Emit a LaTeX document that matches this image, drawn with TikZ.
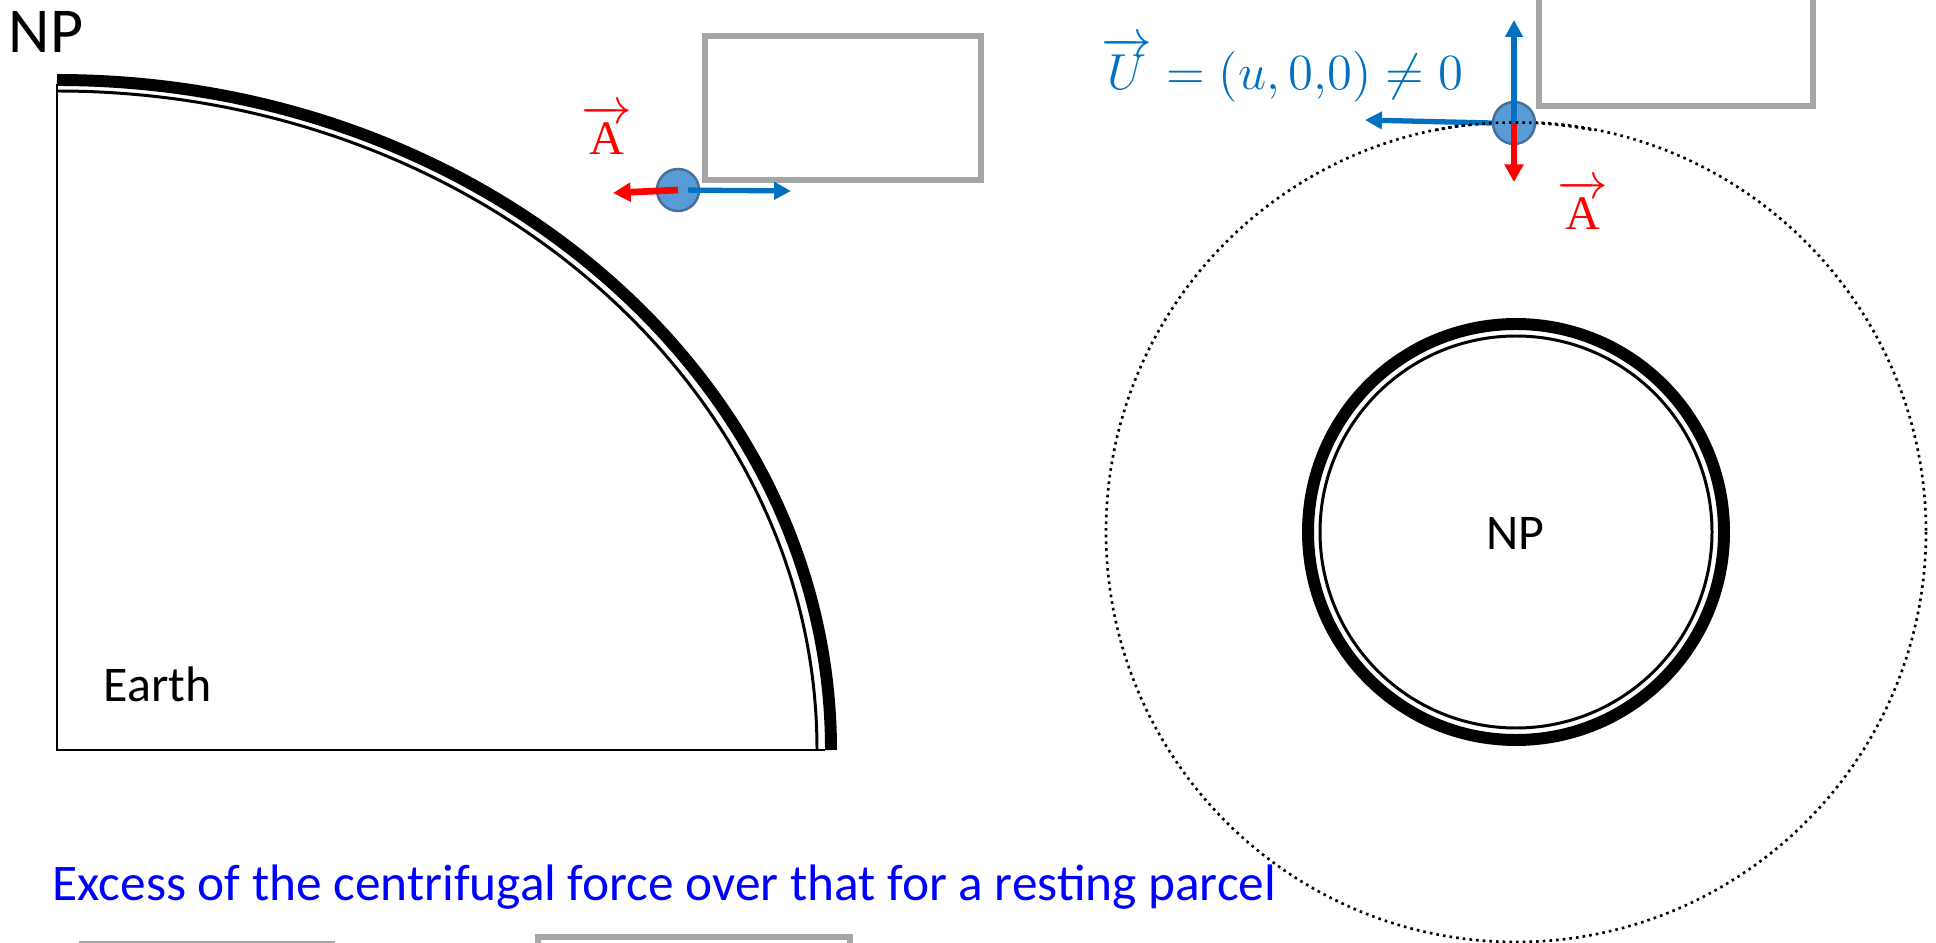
\documentclass[tikz,border=0pt]{standalone}
\usepackage{amsmath}
\usepackage{fontspec}
\setmainfont{Carlito}
\newfontfamily\serifA{Liberation Serif}
\usepackage{xcolor}
\usetikzlibrary{arrows.meta,positioning}

\definecolor{parcelblue}{HTML}{5B9BD5}
\definecolor{parceledge}{HTML}{41719C}
\definecolor{velblue}{HTML}{0070C0}
\definecolor{boxgray}{HTML}{A6A6A6}

\begin{document}
\begin{tikzpicture}[
  x=0.01cm, y=-0.01cm,
  earthline/.style={line width=0.85pt},
  crust/.style={line width=3.4pt},
  orbit/.style={dash pattern=on 0.75pt off 1.15pt, line width=0.75pt},
  frame/.style={draw=boxgray, line width=1.7pt},
  parcel/.style={circle, draw=parceledge, fill=parcelblue, line width=0.7pt, minimum size=0.42cm, inner sep=0pt},
  accarr/.style={-{Triangle[length=5pt,width=5.2pt]}, line width=1.9pt, red},
  velarr/.style={-{Triangle[length=4.8pt,width=4.8pt]}, line width=1.5pt, velblue},
  lbl/.style={inner sep=0pt},
]
\useasboundingbox (0,0) rectangle (1936,943);

%------------------- Left: quarter of the Earth -------------------
\node (np) [lbl, anchor=base west, font=\fontsize{18.2}{20}\selectfont] at (8,53) {NP};
\draw[earthline] (57,84) -- (57,750) -- (825,750);
\draw[earthline] (57,91) arc[start angle=-90, end angle=0, x radius=760, y radius=659];
\draw[crust] (57,80) arc[start angle=-90, end angle=0, x radius=774, y radius=670];
\node (earth) [lbl, anchor=base west, font=\fontsize{14.2}{16}\selectfont] at (103,701) {Earth};

% box and resting parcel
\draw[frame] (705,36) rectangle (981,180);
\node (parcelL) [parcel] at (678,190) {};
\coordinate (accL) at (613,193);
\coordinate (velL) at (791,191);
\draw[accarr] (parcelL.center) -- (accL);
\draw[velarr, shorten <=2.8pt] (parcelL.center) -- (velL);
\node (accLlbl) [lbl, anchor=base, red, font=\fontsize{13.7}{15}\selectfont] at (607,155) {$\overrightarrow{\text{\serifA A}}$};

%------------------- Right: view from above the pole -------------------
\draw[orbit] (1516,532) circle[radius=410];
\draw[crust] (1516,532) circle[radius=208];
\draw[earthline] (1516,532) circle[radius=196];
\node (npR) [lbl, anchor=base, font=\fontsize{14.2}{16}\selectfont] at (1515,550) {NP};

% box and moving parcel
\draw[frame] (1539,-40) rectangle (1813,106);
\node (parcelR) [parcel] at (1514,123) {};
\coordinate (velRup) at (1514,20);
\coordinate (velRleft) at (1365,120);
\coordinate (accR) at (1514,182);
\draw[velarr] (parcelR.center) -- (velRup);
\draw[velarr] (parcelR.west) -- (velRleft);
\draw[accarr] (parcelR.center) -- (accR);
\draw[orbit] (1436,130) arc[start angle=-101, end angle=-79, radius=410];
\node (Ulbl) [lbl, anchor=base west, velblue, font=\fontsize{14.6}{16}\selectfont] at (1101,90) {$\overrightarrow{U} = (u,0{,}0) \neq 0$};
\node (accRlbl) [lbl, anchor=base, red, font=\fontsize{13.7}{15}\selectfont] at (1583,230) {$\overrightarrow{\text{\serifA A}}$};

%------------------- Bottom -------------------
\node (excess) [lbl, anchor=base west, blue, font=\fontsize{14.6}{16}\selectfont] at (52,900) {Excess of the centrifugal force over that for a resting parcel};
\draw[frame] (82,944) rectangle (332,1040);
\draw[frame] (538,937) rectangle (850,1040);

\end{tikzpicture}
\end{document}
